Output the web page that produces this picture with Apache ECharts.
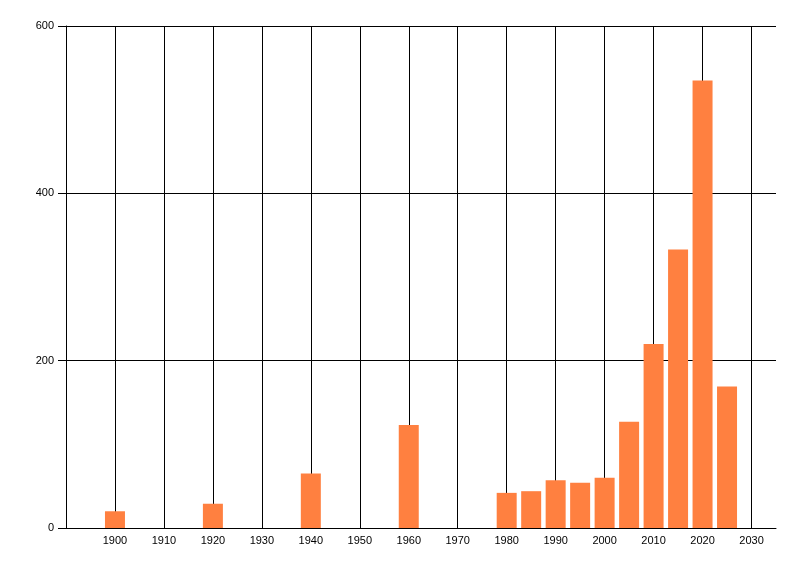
<!DOCTYPE html>
<html>
<head>
<meta charset="utf-8">
<script src="https://cdn.jsdelivr.net/npm/echarts@6/dist/echarts.min.js"></script>
<style>html,body{margin:0;padding:0;background:#fff}#c{width:800px;height:576px}</style>
</head>
<body>
<div id="c"></div>
<script>
var years = [1900, 1920, 1940, 1960, 1980, 1985, 1990, 1995, 2000, 2005, 2010, 2015, 2020, 2025];
var values = [20, 29, 65, 123, 42, 44, 57, 54, 60, 127, 220, 333, 535, 169];
var gridYears = [1900, 1910, 1920, 1930, 1940, 1950, 1960, 1970, 1980, 1990, 2000, 2010, 2020, 2030];
var yTicks = [0, 200, 400, 600];

var chart = echarts.init(document.getElementById('c'));
var font = 'Liberation Sans';
chart.setOption({
  animation: false,
  grid: {left: 66, right: 24, top: 26, bottom: 48, containLabel: false},
  xAxis: {
    type: 'value', min: 1890, max: 2035, interval: 10,
    axisLine: {show: true, lineStyle: {color: '#000', width: 1}},
    axisTick: {show: false},
    splitLine: {show: false},
    axisLabel: {
      color: '#000', fontFamily: font, fontSize: 11, margin: 7,
      formatter: function (v) { return gridYears.indexOf(v) >= 0 ? String(v) : ''; }
    }
  },
  yAxis: {
    type: 'value', min: yTicks[0], max: yTicks[yTicks.length - 1], interval: 200,
    axisLine: {show: true, lineStyle: {color: '#000', width: 1}},
    axisTick: {show: true, length: 8, lineStyle: {color: '#000', width: 1}},
    splitLine: {show: true, lineStyle: {color: '#000', width: 1}},
    axisLabel: {color: '#000', fontFamily: font, fontSize: 11, margin: 12}
  },
  series: [{
    type: 'bar',
    data: years.map(function (y, i) { return [y, values[i]]; }),
    barWidth: 20,
    itemStyle: {color: '#FF8040'},
    z: 5,
    markLine: {
      silent: true, symbol: 'none', animation: false, z: 1,
      label: {show: false},
      lineStyle: {color: '#000', width: 1, type: 'solid'},
      emphasis: {disabled: true},
      data: gridYears.map(function (y) { return {xAxis: y}; })
    }
  }]
});
</script>
</body>
</html>
